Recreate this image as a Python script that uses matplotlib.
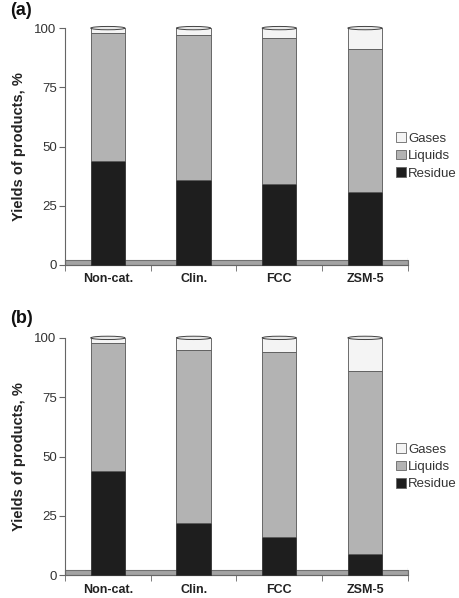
import matplotlib
matplotlib.use("Agg")
import matplotlib.pyplot as plt
from matplotlib.patches import Ellipse, Rectangle
import numpy as np

plt.rcParams['font.family'] = ['Liberation Sans', 'DejaVu Sans']

categories = ["Non-cat.", "Clin.", "FCC", "ZSM-5"]
series = ["Gases", "Liquids", "Residue"]

# panel (a)
residue_a = [44, 36, 34, 31]
liquids_a = [54, 61, 62, 60]
gases_a = [2, 3, 4, 9]

# panel (b)
residue_b = [44, 22, 16, 9]
liquids_b = [54, 73, 78, 77]
gases_b = [2, 5, 6, 14]

yticks = [0, 25, 50, 75, 100]

col_res = "#1e1e1e"
col_liq = "#b3b3b3"
col_gas = "#f4f4f4"
edge = "#555555"

fig = plt.figure(figsize=(4.59, 5.98), dpi=100)

def panel(rect, res, liq, gas, label, legy, label_y):
    ax = fig.add_axes(rect)
    x = np.arange(len(categories))
    w = 0.40
    ax.set_xlim(-0.5, len(categories) - 0.5)
    ax.set_ylim(0, 100)
    # floor
    ax.add_patch(Rectangle((-0.5, 0), len(categories), 2.2, facecolor="#a3a3a3",
                           edgecolor="#707070", lw=0.8, zorder=1, clip_on=False))
    b1 = ax.bar(x, res, w, color=col_res, edgecolor="#333333", lw=0.6, zorder=3,
                label="Residue", clip_on=False)
    b2 = ax.bar(x, liq, w, bottom=res, color=col_liq, edgecolor=edge, lw=0.6,
                zorder=3, label="Liquids", clip_on=False)
    bot = np.array(res) + np.array(liq)
    b3 = ax.bar(x, gas, w, bottom=bot, color=col_gas, edgecolor=edge, lw=0.6,
                zorder=3, label="Gases", clip_on=False)
    tot = bot + np.array(gas)
    for xi, t in zip(x, tot):
        ax.add_patch(Ellipse((xi, t), w, 1.4, facecolor="#e8e8e8", edgecolor="#444444",
                             lw=0.7, zorder=4, clip_on=False))
    ax.spines['top'].set_visible(False)
    ax.spines['right'].set_visible(False)
    ax.spines['left'].set_color("#666666")
    ax.spines['bottom'].set_color("#666666")
    ax.set_yticks(yticks)
    ax.set_yticklabels([str(v) for v in yticks], fontsize=9.5, color="#333333")
    ax.set_xticks(x)
    ax.set_xticklabels(categories, fontsize=9, fontweight="bold", color="#222222")
    ax.tick_params(axis='x', length=0, pad=6)
    ax.set_xticks(np.arange(-0.5, len(categories)), minor=True)
    ax.tick_params(axis='x', which='minor', length=4, direction='out', color="#666666")
    ax.tick_params(axis='y', length=4, direction='out', color="#666666", pad=2)
    ax.axvline(len(categories) - 0.5, ymin=0, ymax=0.03, color="#666666", lw=0.8)
    ax.set_ylabel("Yields of products, %", fontsize=10.5, fontweight="bold",
                  color="#222222", labelpad=6)
    leg = ax.legend(handles=[b3, b2, b1], labels=series, loc="center left",
                    bbox_to_anchor=(0.95, legy), frameon=False, fontsize=9.5,
                    handlelength=0.75, handleheight=0.75, handletextpad=0.15,
                    labelspacing=0.38, borderaxespad=0)
    for h in leg.legend_handles:
        h.set_edgecolor("#666666")
    for t in leg.get_texts():
        t.set_color("#333333")
    fig.text(0.022, label_y, label, fontsize=13, fontweight="bold",
             color="#111111", va="top")
    return ax

panel([0.1416, 0.557, 0.747, 0.396], residue_a, liquids_a, gases_a, "(a)", 0.46, 0.997)
panel([0.1416, 0.038, 0.747, 0.397], residue_b, liquids_b, gases_b, "(b)", 0.457, 0.482)

fig.savefig("out.png", dpi=100)
